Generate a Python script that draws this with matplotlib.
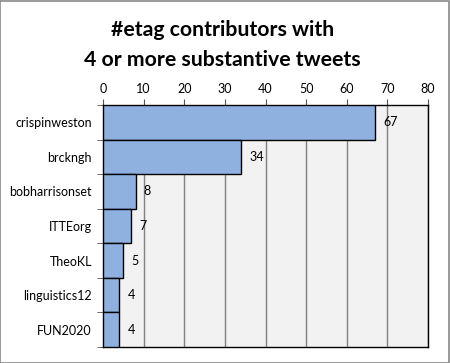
import matplotlib
matplotlib.use("Agg")
import matplotlib.pyplot as plt
import numpy as np
from matplotlib.patches import Rectangle

plt.rcParams['font.family'] = ['Lato', 'DejaVu Sans']

names = ["crispinweston", "brckngh", "bobharrisonset", "ITTEorg", "TheoKL", "linguistics12", "FUN2020"]
values = [67, 34, 8, 7, 5, 4, 4]
xticks = [0, 10, 20, 30, 40, 50, 60, 70, 80]
title = "#etag contributors with\n4 or more substantive tweets"

fig = plt.figure(figsize=(4.5, 3.63), dpi=100)
fig.patch.set_facecolor("white")
fig.patches.append(Rectangle((0.001, 0.001), 0.997, 0.996, transform=fig.transFigure,
                             fill=False, edgecolor="#888888", linewidth=1.2))

ax = fig.add_axes([103/450, 1-347/363, 325/450, 242/363])
ax.set_facecolor("#F2F2F2")
y = np.arange(len(names))
ax.barh(y, values, height=1.0, color="#8EB1E0", edgecolor="black", linewidth=1.0, zorder=3)
for yi, v in zip(y, values):
    ax.annotate(str(v), (v, yi), xytext=(6, 0), textcoords="offset points",
                ha="left", va="center", fontsize=9, color="black", zorder=4)

ax.set_xlim(0, 80)
ax.set_ylim(len(names) - 0.5, -0.5)
ax.set_xticks(xticks)
ax.xaxis.tick_top()
ax.tick_params(axis="x", direction="out", length=4, pad=3, labelsize=9, color="#555555")
ax.set_yticks(y)
ax.set_yticklabels(names, fontsize=9)
ax.set_yticks(np.arange(len(names) + 1) - 0.5, minor=True)
ax.tick_params(axis="y", which="major", length=0, pad=8)
ax.tick_params(axis="y", which="minor", length=4, direction="out", color="#555555")
ax.grid(axis="x", color="#808080", linewidth=1.0, zorder=1)
ax.set_axisbelow(True)
for s in ax.spines.values():
    s.set_color("black")
    s.set_linewidth(1.0)

fig.text(0.494, 1-45/363, title, ha="center", va="center", fontsize=15.3,
         fontweight="bold", linespacing=1.65)

fig.savefig("out.png", dpi=100)
